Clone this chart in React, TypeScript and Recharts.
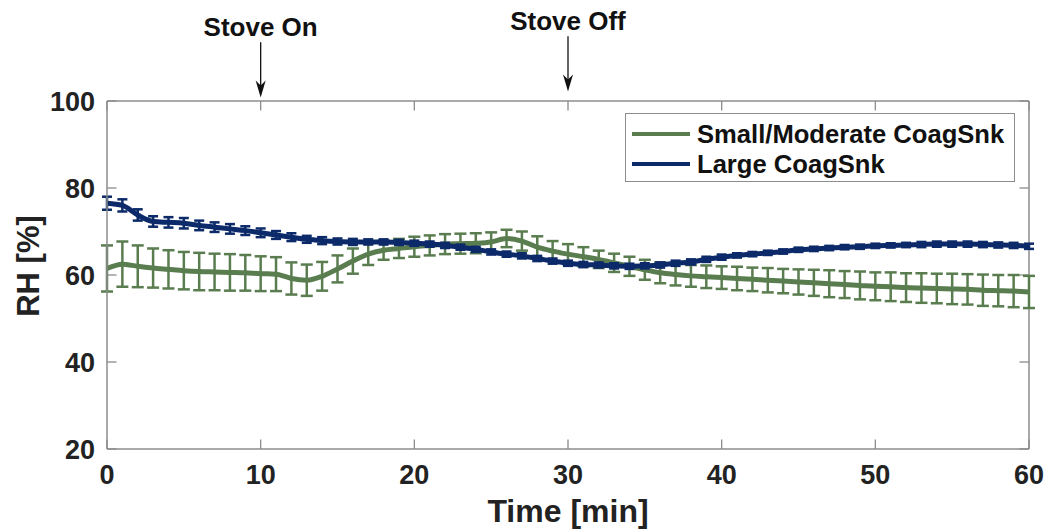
import React from "react";
import {
  ComposedChart,
  Line,
  XAxis,
  YAxis,
  ErrorBar,
  ReferenceLine,
  Legend,
} from "recharts";

const minutes = [
  0, 1, 2, 3, 4, 5, 6, 7, 8, 9, 10, 11, 12, 13, 14, 15, 16, 17, 18, 19, 20,
  21, 22, 23, 24, 25, 26, 27, 28, 29, 30, 31, 32, 33, 34, 35, 36, 37, 38, 39,
  40, 41, 42, 43, 44, 45, 46, 47, 48, 49, 50, 51, 52, 53, 54, 55, 56, 57, 58,
  59, 60,
];

// Small/Moderate CoagSnk
const smallRH = [
  61.5, 62.5, 62.0, 61.6, 61.3, 61.0, 60.8, 60.7, 60.6, 60.5, 60.3, 60.2, 59.2,
  58.8, 59.7, 61.4, 63.2, 64.8, 65.7, 66.1, 66.5, 66.8, 67.1, 67.2, 67.3, 67.6,
  68.4, 67.8, 66.4, 65.5, 64.8, 64.2, 63.6, 62.8, 62.0, 61.2, 60.5, 60.1, 59.8,
  59.6, 59.4, 59.2, 59.0, 58.8, 58.6, 58.4, 58.2, 58.0, 57.8, 57.6, 57.4, 57.3,
  57.1, 57.0, 56.9, 56.8, 56.7, 56.5, 56.4, 56.3, 56.1,
];
const smallErr = [
  5.3, 5.2, 4.8, 4.5, 4.4, 4.3, 4.3, 4.2, 4.2, 4.1, 4.0, 3.9, 3.7, 3.6, 3.3,
  3.1, 2.9, 2.5, 2.2, 2.2, 2.3, 2.3, 2.3, 2.3, 2.3, 2.2, 2.0, 2.2, 2.5, 2.3,
  2.3, 2.2, 2.0, 2.1, 2.2, 2.3, 2.4, 2.5, 2.5, 2.6, 2.6, 2.7, 2.7, 2.8, 2.8,
  2.9, 3.0, 3.1, 3.1, 3.2, 3.2, 3.3, 3.3, 3.4, 3.4, 3.5, 3.5, 3.6, 3.6, 3.7,
  3.7,
];

// Large CoagSnk
const largeRH = [
  76.5, 76.0, 73.8, 72.3, 72.1, 71.9, 71.4, 71.0, 70.6, 70.2, 69.7, 69.2, 68.7,
  68.2, 67.9, 67.7, 67.6, 67.6, 67.6, 67.5, 67.3, 67.1, 66.8, 66.4, 65.9, 65.3,
  64.8, 64.4, 63.8, 63.2, 62.7, 62.4, 62.3, 62.1, 62.0, 62.1, 62.3, 62.7, 63.0,
  63.6, 64.1, 64.5, 64.8, 65.1, 65.4, 65.8, 66.0, 66.2, 66.4, 66.5, 66.7, 66.8,
  66.9, 67.0, 67.1, 67.1, 67.1, 67.0, 66.9, 66.8, 66.6,
];
const largeErr = [
  1.5, 1.4, 1.3, 1.2, 1.2, 1.2, 1.1, 1.1, 1.1, 1.0, 1.0, 0.9, 0.9, 0.8, 0.8,
  0.7, 0.7, 0.6, 0.6, 0.6, 0.6, 0.6, 0.6, 0.6, 0.6, 0.6, 0.6, 0.6, 0.6, 0.6,
  0.6, 0.6, 0.6, 0.6, 0.6, 0.6, 0.6, 0.6, 0.6, 0.6, 0.6, 0.5, 0.5, 0.5, 0.5,
  0.5, 0.5, 0.5, 0.5, 0.5, 0.5, 0.5, 0.5, 0.6, 0.6, 0.6, 0.6, 0.6, 0.6, 0.6,
  0.6,
];

const xTicks = [0, 10, 20, 30, 40, 50, 60];
const yTicks = [20, 40, 60, 80, 100];
const seriesNames = ["Small/Moderate CoagSnk", "Large CoagSnk"];
const events = [
  { t: 10, label: "Stove On", tip: 100.8, top: 113.5 },
  { t: 30, label: "Stove Off", tip: 102.2, top: 114.9 },
];

const GREEN = "#5a7d50";
const BLUE = "#0c2a69";
const AXIS = "#8c8c8c";
const INK = "#222";
const FONT = "'Liberation Sans', Arial, sans-serif";

const data = minutes.map((t, i) => ({
  t,
  small: smallRH[i],
  smallErr: smallErr[i],
  large: largeRH[i],
  largeErr: largeErr[i],
}));

const legendColors = [GREEN, BLUE];

function LegendBox() {
  return (
    <div
      style={{
        width: 390,
        height: 69,
        boxSizing: "border-box",
        border: `1px solid ${AXIS}`,
        background: "#fff",
        paddingTop: 5,
        fontFamily: FONT,
        fontWeight: 700,
        fontSize: 25.6,
        color: "#111",
      }}
    >
      {seriesNames.map((name, i) => (
        <div
          key={name}
          style={{ display: "flex", alignItems: "center", height: 30 }}
        >
          <span
            style={{
              display: "inline-block",
              width: 58,
              height: 4,
              background: legendColors[i],
              marginLeft: 6,
              marginRight: 7,
            }}
          />
          <span style={{ lineHeight: "30px" }}>{name}</span>
        </div>
      ))}
    </div>
  );
}

function EventArrow(props: any) {
  const { x1, y1, y2, label } = props;
  const tipY = Math.max(y1, y2);
  const topY = Math.min(y1, y2);
  return (
    <g>
      <line x1={x1} y1={topY} x2={x1} y2={tipY - 8} stroke="#111" strokeWidth={1.3} />
      <path
        d={`M${x1},${tipY} L${x1 - 5},${tipY - 17} L${x1},${tipY - 12} L${x1 + 5},${tipY - 17} Z`}
        fill="#111"
      />
      <text
        x={x1}
        y={topY - 6}
        textAnchor="middle"
        fontFamily={FONT}
        fontWeight={700}
        fontSize={26}
        fill="#111"
      >
        {label}
      </text>
    </g>
  );
}

const renderYLabel = (props: any) => {
  const vb = props.viewBox || {};
  const cx = (vb.x ?? 0) + 28.5;
  const cy = (vb.y ?? 101) + (vb.height ?? 348) / 2 - 9;
  return (
    <text
      x={cx}
      y={cy}
      transform={`rotate(-90 ${cx} ${cy})`}
      textAnchor="middle"
      dominantBaseline="central"
      fontFamily={FONT}
      fontWeight={700}
      fontSize={31}
      fill={INK}
    >
      RH [%]
    </text>
  );
};

const renderXLabel = (props: any) => {
  const vb = props.viewBox || {};
  const cx = (vb.x ?? 107) + (vb.width ?? 922) / 2;
  const y = (vb.y ?? 449) + 73;
  return (
    <text
      x={cx}
      y={y}
      textAnchor="middle"
      fontFamily={FONT}
      fontWeight={700}
      fontSize={32}
      fill={INK}
    >
      Time [min]
    </text>
  );
};

// inward tick length in data units (about 10px)
const xTickLen = 0.62;
const yTickLen = 2.2;

export default function App() {
  return (
    <div style={{ position: "absolute", left: 0, top: 0, background: "#fff" }}>
      <ComposedChart
        width={1051}
        height={531}
        data={data}
        margin={{ top: 101, right: 22, bottom: 22, left: 0 }}
      >
        <XAxis
          dataKey="t"
          type="number"
          domain={[0, 60]}
          ticks={xTicks}
          height={60}
          tickLine={false}
          axisLine={{ stroke: AXIS, strokeWidth: 1.5 }}
          tickSize={8}
          tickMargin={8}
          tick={{ fontSize: 27, fontWeight: 700, fill: INK, fontFamily: FONT }}
          label={renderXLabel}
        />
        <YAxis
          type="number"
          domain={[20, 100]}
          ticks={yTicks}
          width={107}
          tickLine={false}
          axisLine={{ stroke: AXIS, strokeWidth: 1.5 }}
          tickSize={6}
          tickMargin={6}
          tick={{ fontSize: 27, fontWeight: 700, fill: INK, fontFamily: FONT }}
          label={renderYLabel}
        />
        <ReferenceLine y={100} stroke={AXIS} strokeWidth={1.5} />
        <ReferenceLine x={60} stroke={AXIS} strokeWidth={1.5} />
        {xTicks.map((t) => (
          <ReferenceLine
            key={`xb${t}`}
            segment={[
              { x: t, y: 20 },
              { x: t, y: 20 + yTickLen },
            ]}
            stroke={AXIS}
            strokeWidth={1.3}
          />
        ))}
        {xTicks.map((t) => (
          <ReferenceLine
            key={`xt${t}`}
            segment={[
              { x: t, y: 100 },
              { x: t, y: 100 - yTickLen },
            ]}
            stroke={AXIS}
            strokeWidth={1.3}
          />
        ))}
        {yTicks.map((v) => (
          <ReferenceLine
            key={`yl${v}`}
            segment={[
              { x: 0, y: v },
              { x: xTickLen, y: v },
            ]}
            stroke={AXIS}
            strokeWidth={1.3}
          />
        ))}
        {yTicks.map((v) => (
          <ReferenceLine
            key={`yr${v}`}
            segment={[
              { x: 60, y: v },
              { x: 60 - xTickLen, y: v },
            ]}
            stroke={AXIS}
            strokeWidth={1.3}
          />
        ))}
        <Line
          dataKey="small"
          name={seriesNames[0]}
          type="monotone"
          stroke={GREEN}
          strokeWidth={5}
          dot={false}
          activeDot={false}
          isAnimationActive={false}
        >
          <ErrorBar
            dataKey="smallErr"
            direction="y"
            width={6}
            stroke={GREEN}
            strokeWidth={2.5}
            isAnimationActive={false}
          />
        </Line>
        <Line
          dataKey="large"
          name={seriesNames[1]}
          type="monotone"
          stroke={BLUE}
          strokeWidth={5}
          dot={false}
          activeDot={false}
          isAnimationActive={false}
        >
          <ErrorBar
            dataKey="largeErr"
            direction="y"
            width={5}
            stroke={BLUE}
            strokeWidth={2.5}
            isAnimationActive={false}
          />
        </Line>
        {events.map((e) => (
          <ReferenceLine
            key={e.label}
            ifOverflow="visible"
            segment={[
              { x: e.t, y: e.tip },
              { x: e.t, y: e.top },
            ]}
            shape={(p: any) => <EventArrow {...p} label={e.label} />}
          />
        ))}
        <Legend
          layout="vertical"
          align="center"
          verticalAlign="middle"
          wrapperStyle={{ left: 625, top: 113, width: 390 }}
          content={() => <LegendBox />}
        />
      </ComposedChart>
    </div>
  );
}
